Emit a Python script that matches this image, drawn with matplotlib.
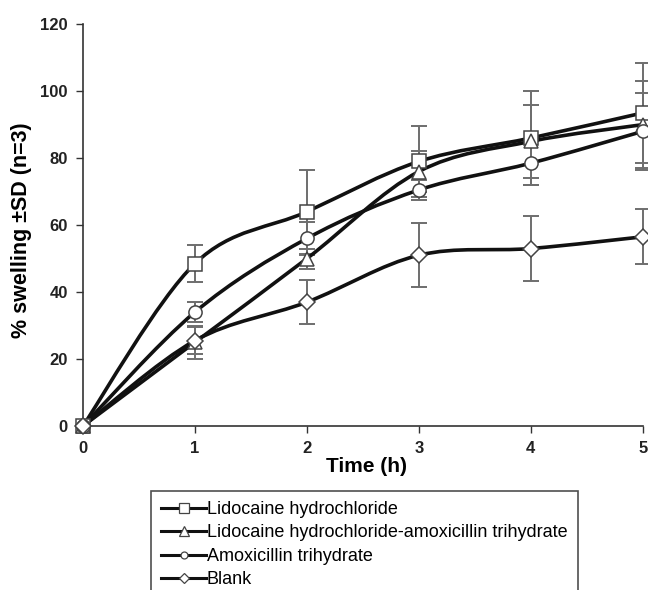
import numpy as np
import matplotlib
matplotlib.use("Agg")
import matplotlib.pyplot as plt
from matplotlib.path import Path
from matplotlib.patches import PathPatch
from matplotlib.lines import Line2D

plt.rcParams['font.family'] = ['Liberation Sans', 'DejaVu Sans']

# data
time_h = [0, 1, 2, 3, 4, 5]
lido = [0, 48.5, 64, 79, 86, 93.5]
lido_sd = [0, 5.5, 12.5, 10.5, 14, 15]
lido_amox = [0, 25, 50, 76, 85, 90]
lido_amox_sd = [0, 5, 3, 6, 11, 13]
amox = [0, 34, 56, 70.5, 78.5, 88]
amox_sd = [0, 3, 5, 3, 6.5, 11.5]
blank = [0, 25.5, 37, 51, 53, 56.5]
blank_sd = [0, 4, 6.5, 9.5, 9.7, 8.2]

labels = ["Lidocaine hydrochloride",
          "Lidocaine hydrochloride-amoxicillin trihydrate",
          "Amoxicillin trihydrate",
          "Blank"]
markers = ["s", "^", "o", "D"]
msizes = [9.5, 10, 9.5, 8]
leg_msizes = [6.5, 6.5, 5, 5]


def smooth_path(x, y):
    # excel-like smoothed line (catmull-rom as bezier segments)
    pts = np.column_stack([x, y]).astype(float)
    ext = np.vstack([pts[0], pts, pts[-1]])
    verts = [tuple(pts[0])]
    codes = [Path.MOVETO]
    for i in range(1, len(ext) - 2):
        p0, p1, p2, p3 = ext[i - 1], ext[i], ext[i + 1], ext[i + 2]
        c1 = p1 + (p2 - p0) / 6
        c2 = p2 - (p3 - p1) / 6
        verts += [tuple(c1), tuple(c2), tuple(p2)]
        codes += [Path.CURVE4] * 3
    return Path(verts, codes)


fig = plt.figure(figsize=(6.48, 5.90), dpi=100)
ax = fig.add_axes([0.128, 0.278, 0.864, 0.681])

series = [(lido, lido_sd), (lido_amox, lido_amox_sd), (amox, amox_sd), (blank, blank_sd)]
handles = []
for (vals, sd), m, ms, lms, lab in zip(series, markers, msizes, leg_msizes, labels):
    ax.errorbar(time_h, vals, yerr=sd, fmt="none", ecolor="#6e6e6e", elinewidth=1.4,
                capsize=6, capthick=1.4, zorder=2, clip_on=False)
    ax.add_patch(PathPatch(smooth_path(time_h, vals), facecolor="none", edgecolor="#111111",
                           lw=2.6, zorder=3, clip_on=False))
    ax.plot(time_h, vals, linestyle="none", marker=m, ms=ms, mfc="white", mec="#444444",
            mew=1.1, zorder=4, clip_on=False)
    handles.append(Line2D([], [], color="#111111", lw=2.2, marker=m, ms=lms,
                          mfc="white", mec="#444444", mew=0.9))

ax.set_xlim(0, 5)
ax.set_ylim(0, 120)
ax.set_xticks(time_h)
ax.set_yticks(range(0, 121, 20))
for s in ["top", "right"]:
    ax.spines[s].set_visible(False)
for s in ["left", "bottom"]:
    ax.spines[s].set_color("#333333")
    ax.spines[s].set_linewidth(1.2)
ax.tick_params(direction="out", length=5, width=1, colors="#333333", labelsize=12, pad=6)
for t in ax.get_xticklabels() + ax.get_yticklabels():
    t.set_fontweight("bold")
    t.set_color("#222222")

fig.text(367 / 648, 1 - 467 / 590, "Time (h)", ha="center", va="center",
         fontsize=15, fontweight="bold")
fig.text(22 / 648, 1 - 230 / 590, "% swelling ±SD (n=3)", ha="center", va="center",
         rotation=90, fontsize=15.5, fontweight="bold")

leg = fig.legend(handles, labels, loc="upper left", bbox_to_anchor=(151 / 648, 1 - 491 / 590),
                 fontsize=13, frameon=True, fancybox=False, handlelength=2.5,
                 handletextpad=0.05, labelspacing=0.36, borderpad=0.55, borderaxespad=0)
leg.get_frame().set_edgecolor("#222222")
leg.get_frame().set_linewidth(1.2)

fig.savefig("out.png", dpi=100)
